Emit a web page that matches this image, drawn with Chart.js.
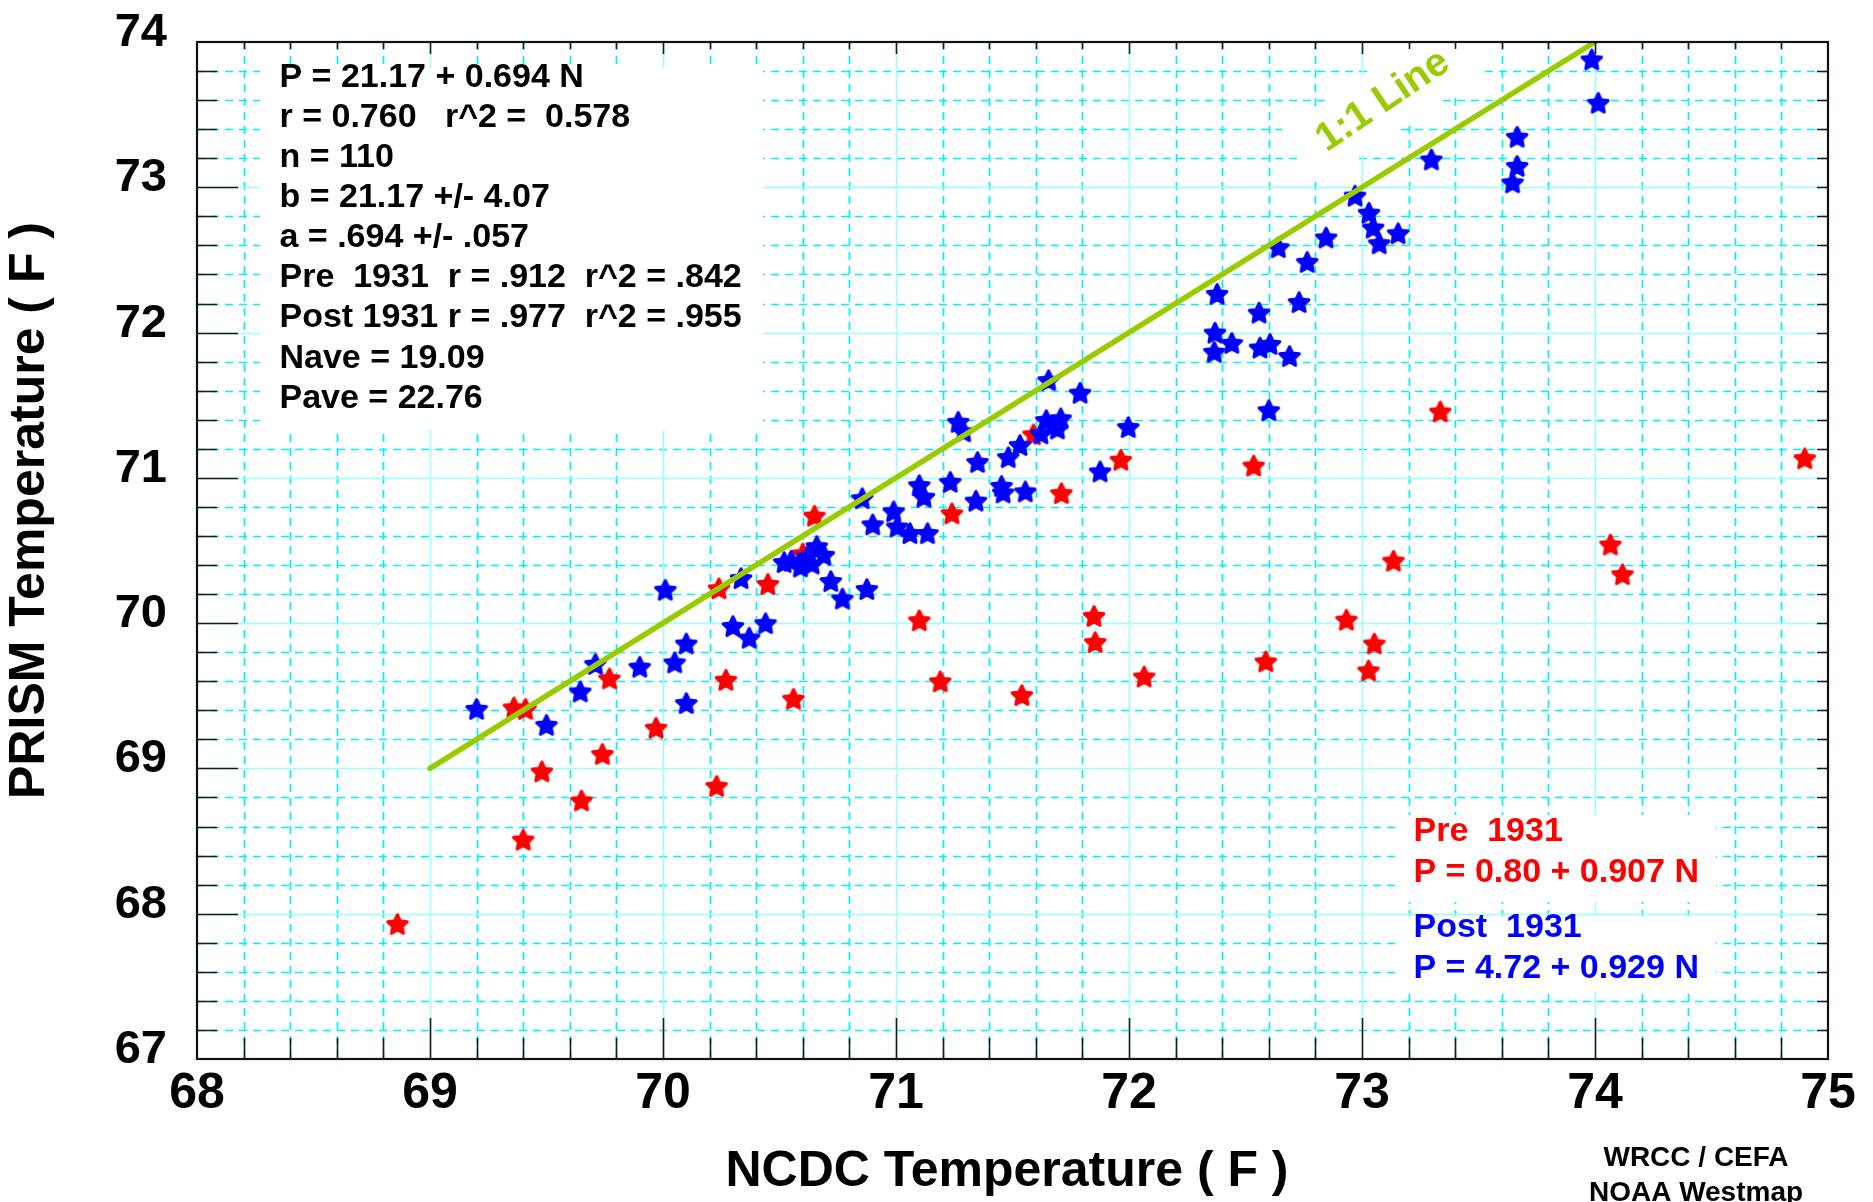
<!DOCTYPE html>
<html><head><meta charset="utf-8">
<script src="https://cdn.jsdelivr.net/npm/chart.js@4.4.1/dist/chart.umd.min.js"></script>
<style>html,body{margin:0;padding:0;background:#fff;overflow:hidden}#wrap{width:1873px;height:1202px;position:relative}canvas{display:block}</style>
</head><body><div id="wrap"><canvas id="c" width="1873" height="1202"></canvas></div>
<script>
// ---------------- data ----------------
const preN = [68.86, 69.36, 69.41, 69.48, 69.40, 69.65, 69.74, 69.77, 69.97, 70.23, 70.24, 70.27, 70.45, 70.56, 70.65, 70.60, 71.59, 71.24, 71.71, 71.965, 72.535, 73.135, 71.10, 71.85, 71.855, 71.19, 71.54, 72.065, 72.587, 72.933, 73.053, 73.028, 73.336, 74.90, 74.066, 74.118];
const preP = [67.93, 69.42, 69.41, 68.98, 68.51, 68.78, 69.10, 69.62, 69.28, 68.88, 70.24, 69.61, 70.27, 69.48, 70.74, 70.48, 71.30, 70.756, 70.895, 71.125, 71.085, 70.43, 70.02, 70.05, 69.87, 69.60, 69.505, 69.633, 69.737, 70.024, 69.86, 69.675, 71.457, 71.135, 70.542, 70.337];
const postN = [69.20, 69.50, 69.645, 69.71, 69.90, 70.01, 70.05, 70.10, 70.10, 70.30, 70.37, 70.44, 70.335, 70.52, 70.55, 70.59, 70.62, 70.66, 70.69, 70.64, 70.72, 70.77, 70.875, 70.855, 70.90, 70.99, 71.005, 71.06, 71.135, 71.10, 71.12, 71.233, 71.267, 71.29, 71.343, 71.35, 71.453, 71.46, 71.482, 71.532, 71.555, 71.622, 71.645, 71.707, 71.693, 71.67, 71.655, 71.79, 71.876, 71.997, 72.369, 72.366, 72.441, 72.558, 72.562, 72.605, 72.689, 72.60, 72.73, 72.378, 72.641, 72.765, 72.846, 72.97, 73.03, 73.048, 73.074, 73.155, 73.298, 73.666, 73.666, 73.646, 73.986, 74.014];
const postP = [69.41, 69.30, 69.53, 69.72, 69.70, 70.23, 69.73, 69.86, 69.45, 69.98, 69.90, 70.00, 70.31, 70.42, 70.43, 70.39, 70.46, 70.53, 70.47, 70.41, 70.29, 70.17, 70.235, 70.86, 70.68, 70.77, 70.665, 70.62, 70.62, 70.95, 70.87, 70.973, 71.386, 71.32, 70.843, 71.11, 70.945, 70.90, 71.143, 71.226, 70.907, 71.306, 71.398, 71.41, 71.34, 71.36, 71.673, 71.586, 71.045, 71.35, 72.00, 71.868, 71.929, 72.138, 71.897, 71.922, 71.839, 71.466, 72.21, 72.267, 72.588, 72.487, 72.655, 72.943, 72.825, 72.723, 72.615, 72.684, 73.192, 73.348, 73.147, 73.034, 73.88, 73.582];
const oneToOne = [69, 74];
const xTicks = [68, 69, 70, 71, 72, 73, 74, 75];
const yTicks = [67, 68, 69, 70, 71, 72, 73, 74];
const statLines = ['P = 21.17 + 0.694 N', 'r = 0.760   r^2 =  0.578', 'n = 110', 'b = 21.17 +/- 4.07', 'a = .694 +/- .057', 'Pre  1931  r = .912  r^2 = .842', 'Post 1931 r = .977  r^2 = .955', 'Nave = 19.09', 'Pave = 22.76'];
const preLegend = ['Pre  1931', 'P = 0.80 + 0.907 N'];
const postLegend = ['Post  1931', 'P = 4.72 + 0.929 N'];
const lineLabel = '1:1 Line';
const xTitle = 'NCDC Temperature ( F )';
const yTitle = 'PRISM Temperature ( F )';
const credits = ['WRCC / CEFA', 'NOAA Westmap'];

// ---------------- styles ----------------
const FONT = '"Liberation Sans", Arial, Helvetica, sans-serif';
const RED = '#ff0000', BLUE = '#0000ff', GREEN = '#99cc00';

function makeStar(color) {
  const c = document.createElement('canvas');
  c.width = 28; c.height = 28;
  const g = c.getContext('2d');
  const R = 10.3, r = 5.0, cx = 14, cy = 15.0;
  g.beginPath();
  for (let i = 0; i < 10; i++) {
    const a = -Math.PI / 2 + i * Math.PI / 5;
    const rad = i % 2 ? r : R;
    g.lineTo(cx + rad * Math.cos(a), cy + rad * Math.sin(a));
  }
  g.closePath();
  g.fillStyle = color; g.fill();
  g.lineJoin = 'round'; g.lineWidth = 3; g.strokeStyle = color; g.stroke();
  return c;
}
const redStar = makeStar(RED), blueStar = makeStar(BLUE);

const decorPlugin = {
  id: 'decor',
  beforeDatasetsDraw(chart) {
    const {ctx, chartArea: a, scales: {x, y}} = chart;
    ctx.save();
    // minor dashed grid
    ctx.strokeStyle = '#00f0ff';
    ctx.lineWidth = 1.7;
    ctx.setLineDash([8, 6]);
    for (let k = 1; k < 35; k++) {
      if (k % 5 === 0) continue;
      const px = Math.round(x.getPixelForValue(68 + k * 0.2)) + 0.5;
      ctx.beginPath(); ctx.moveTo(px, a.top); ctx.lineTo(px, a.bottom); ctx.stroke();
      const py = Math.round(y.getPixelForValue(67 + k * 0.2)) + 0.5;
      ctx.beginPath(); ctx.moveTo(a.left, py); ctx.lineTo(a.right, py); ctx.stroke();
    }
    // major solid grid
    ctx.setLineDash([]);
    ctx.strokeStyle = '#99ffff';
    ctx.lineWidth = 1.6;
    for (let k = 1; k < 7; k++) {
      const px = Math.round(x.getPixelForValue(68 + k)) + 0.5;
      ctx.beginPath(); ctx.moveTo(px, a.top); ctx.lineTo(px, a.bottom); ctx.stroke();
      const py = Math.round(y.getPixelForValue(67 + k)) + 0.5;
      ctx.beginPath(); ctx.moveTo(a.left, py); ctx.lineTo(a.right, py); ctx.stroke();
    }
    // white text backgrounds
    ctx.fillStyle = '#ffffff';
    ctx.fillRect(260, 68, 503, 362);
    ctx.fillRect(1401, 815, 315, 87);
    ctx.fillRect(1401, 916, 315, 76);
    ctx.save();
    ctx.translate(1383, 101);
    ctx.rotate(-34 * Math.PI / 180);
    ctx.fillRect(-100, -33, 200, 66);
    ctx.fillStyle = GREEN;
    ctx.font = 'bold 40px ' + FONT;
    ctx.textAlign = 'center'; ctx.textBaseline = 'middle';
    ctx.fillText(lineLabel, 0, 0);
    ctx.restore();
    // stats text
    ctx.fillStyle = '#000';
    ctx.font = 'bold 34px ' + FONT;
    ctx.textAlign = 'left'; ctx.textBaseline = 'middle';
    statLines.forEach((t, i) => ctx.fillText(t, 279.5, 77.5 + 40.1 * i));
    ctx.fillStyle = RED;
    preLegend.forEach((t, i) => ctx.fillText(t, 1413.5, 832 + 40.3 * i));
    ctx.fillStyle = BLUE;
    postLegend.forEach((t, i) => ctx.fillText(t, 1413.5, 928 + 40.3 * i));
    ctx.restore();
  },
  afterDatasetsDraw(chart) {
    const {ctx, chartArea: a, scales: {x, y}} = chart;
    ctx.save();
    ctx.strokeStyle = '#1a1a1a';
    ctx.lineWidth = 1.6;
    for (let k = 1; k < 35; k++) {
      const major = k % 5 === 0;
      const px = Math.round(x.getPixelForValue(68 + k * 0.2)) + 0.5;
      ctx.beginPath();
      ctx.moveTo(px, a.bottom); ctx.lineTo(px, a.bottom - (major ? 41 : 21));
      ctx.moveTo(px, a.top); ctx.lineTo(px, a.top + (major ? 12 : 7));
      ctx.stroke();
      const py = Math.round(y.getPixelForValue(67 + k * 0.2)) + 0.5;
      ctx.beginPath();
      ctx.moveTo(a.left, py); ctx.lineTo(a.left + (major ? 41 : 20), py);
      ctx.moveTo(a.right, py); ctx.lineTo(a.right - 11, py);
      ctx.stroke();
    }
    ctx.lineWidth = 2.2;
    ctx.strokeStyle = '#111';
    ctx.strokeRect(a.left, a.top, a.right - a.left, a.bottom - a.top);
    ctx.restore();
  },
  afterDraw(chart) {
    const {ctx} = chart;
    ctx.save();
    ctx.fillStyle = '#000';
    ctx.font = 'bold 50px ' + FONT;
    ctx.textAlign = 'center'; ctx.textBaseline = 'middle';
    ctx.fillText(xTitle, 1007, 1172);
    ctx.save();
    ctx.translate(30, 510.5);
    ctx.rotate(-Math.PI / 2);
    ctx.fillText(yTitle, 0, 0);
    ctx.restore();
    ctx.font = 'bold 28px ' + FONT;
    ctx.fillText(credits[0], 1696, 1158);
    ctx.fillText(credits[1], 1696, 1193);
    ctx.restore();
  }
};

new Chart(document.getElementById('c'), {
  type: 'scatter',
  data: {
    datasets: [
      {
        label: '1:1 Line',
        data: oneToOne.map(v => ({x: v, y: v})),
        showLine: true,
        borderColor: GREEN,
        borderWidth: 5.5,
        borderCapStyle: 'round',
        pointRadius: 0,
        fill: false
      },
      {
        label: 'Post 1931',
        data: postN.map((n, i) => ({x: n, y: postP[i]})),
        pointStyle: blueStar,
        pointRadius: 11
      },
      {
        label: 'Pre 1931',
        data: preN.map((n, i) => ({x: n, y: preP[i]})),
        pointStyle: redStar,
        pointRadius: 11
      }
    ]
  },
  options: {
    responsive: false,
    devicePixelRatio: 1,
    animation: false,
    events: [],
    layout: {padding: {top: 42, right: 45, left: 0, bottom: 0}},
    plugins: {legend: {display: false}, tooltip: {enabled: false}, title: {display: false}},
    scales: {
      x: {
        type: 'linear', min: 68, max: 75,
        afterBuildTicks: s => { s.ticks = xTicks.map(v => ({value: v})); },
        afterFit: s => { s.height = 143; s.paddingLeft = 0; s.paddingRight = 0; s.paddingTop = 0; s.paddingBottom = 0; },
        grid: {display: false, drawTicks: false},
        border: {display: false},
        ticks: {
          font: {family: FONT, size: 50, weight: 'bold'},
          color: '#000', padding: 5, maxRotation: 0, autoSkip: false,
          callback: v => String(v)
        }
      },
      y: {
        type: 'linear', min: 67, max: 74,
        afterBuildTicks: s => { s.ticks = yTicks.map(v => ({value: v})); },
        afterFit: s => { s.width = 197; s.paddingLeft = 0; s.paddingRight = 0; s.paddingTop = 0; s.paddingBottom = 0; },
        grid: {display: false, drawTicks: false},
        border: {display: false},
        ticks: {
          font: {family: FONT, size: 47, weight: 'bold'},
          color: '#000', padding: 30, labelOffset: -9, autoSkip: false,
          callback: v => String(v)
        }
      }
    }
  },
  plugins: [decorPlugin]
});
</script>
</body></html>
